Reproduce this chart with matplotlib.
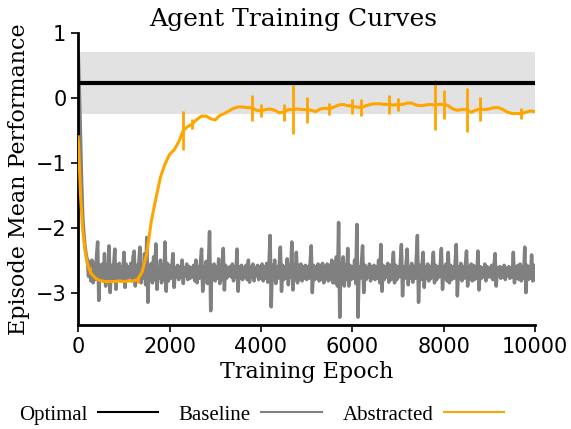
import numpy as np
import matplotlib
matplotlib.use('Agg')
import matplotlib.pyplot as plt
from matplotlib.lines import Line2D

# optimal policy: mean and spread (band)
optimal_mean = 0.23
optimal_std = 0.48

# baseline agent, one value every 25 epochs (0 .. 10000)
baseline_perf = [
    0.70, 0.10, -0.60, -1.30, -1.85, -2.10, -2.30, -2.42, -2.50, -2.75, -2.52, -2.82, -2.50, -2.85, -2.55, -2.80, -2.45, -2.22, -3.12, -2.58,
    -2.80, -2.56, -2.82, -2.40, -2.90, -2.58, -2.78, -2.28, -3.00, -2.58, -2.80, -2.60, -2.33, -2.95, -2.57, -2.80, -2.55, -2.82, -2.60, -2.78,
    -2.38, -2.92, -2.56, -2.80, -2.60, -2.76, -2.55, -2.82, -2.45, -2.36, -2.90, -2.58, -2.80, -2.57, -2.30, -2.85, -2.60, -2.78, -2.40, -2.88,
    -2.15, -3.15, -2.58, -2.80, -2.55, -2.85, -2.45, -2.80, -2.25, -2.95, -2.60, -2.78, -2.50, -2.85, -2.58, -2.80, -2.22, -2.98, -2.55, -2.82,
    -2.58, -2.78, -2.60, -2.40, -2.92, -2.62, -2.76, -2.58, -2.80, -2.60, -2.76, -2.50, -2.86, -2.62, -2.74, -2.56, -2.80, -2.60, -2.78, -2.62,
    -2.76, -2.58, -2.82, -2.50, -2.85, -2.60, -2.78, -2.56, -2.33, -2.98, -2.60, -2.78, -2.52, -2.86, -2.58, -2.06, -3.28, -2.58, -2.80, -2.56,
    -2.82, -2.60, -2.78, -2.48, -2.86, -2.58, -2.80, -2.32, -2.96, -2.58, -2.78, -2.62, -2.74, -2.60, -2.76, -2.56, -2.82, -2.60, -2.76, -2.33,
    -2.98, -2.60, -2.78, -2.58, -2.80, -2.62, -2.75, -2.58, -2.80, -2.50, -2.84, -2.60, -2.76, -2.56, -2.82, -2.62, -2.74, -2.58, -2.80, -2.60,
    -2.78, -2.56, -2.82, -2.60, -2.78, -2.55, -2.84, -2.60, -2.12, -3.22, -2.58, -2.80, -2.50, -2.86, -2.60, -2.78, -2.58, -2.30, -2.98, -2.58,
    -2.80, -2.60, -2.78, -2.48, -2.88, -2.60, -2.76, -2.22, -2.96, -2.58, -2.80, -2.38, -2.85, -2.58, -2.80, -2.56, -2.82, -2.60, -2.78, -2.58,
    -2.80, -2.60, -2.78, -2.56, -2.28, -3.00, -2.58, -2.80, -2.60, -2.78, -2.56, -2.82, -2.58, -2.80, -2.55, -2.85, -2.60, -2.78, -2.56, -2.82,
    -2.58, -2.80, -2.50, -2.85, -2.55, -2.85, -2.45, -2.90, -1.92, -3.38, -2.55, -2.82, -2.45, -2.90, -2.58, -2.80, -2.32, -2.90, -2.58, -2.80,
    -2.60, -2.78, -2.50, -2.86, -1.95, -3.38, -2.60, -2.78, -2.55, -2.28, -3.00, -2.58, -2.80, -2.62, -2.76, -2.56, -2.82, -2.60, -2.78, -2.58,
    -2.80, -2.60, -2.78, -2.50, -2.85, -2.26, -2.98, -2.58, -2.80, -2.60, -2.76, -2.55, -2.84, -2.58, -2.80, -2.60, -2.38, -2.85, -2.58, -2.80,
    -2.60, -2.76, -2.56, -2.26, -3.05, -2.60, -2.78, -2.58, -2.33, -2.88, -2.60, -2.78, -2.55, -2.84, -2.60, -2.78, -2.50, -2.12, -3.15, -2.58,
    -2.80, -2.58, -2.38, -2.92, -2.60, -2.78, -2.56, -2.82, -2.60, -2.78, -2.58, -2.38, -2.85, -2.58, -2.80, -2.60, -2.76, -2.58, -2.32, -2.95,
    -2.60, -2.78, -2.56, -2.82, -2.38, -2.85, -2.58, -2.80, -2.60, -2.78, -2.56, -2.26, -3.05, -2.60, -2.78, -2.55, -2.82, -2.60, -2.78, -2.58,
    -2.36, -2.90, -2.60, -2.78, -2.56, -2.82, -2.58, -2.80, -2.60, -2.78, -2.36, -2.96, -2.60, -2.78, -2.62, -2.76, -2.56, -2.82, -2.60, -2.76,
    -2.62, -2.76, -2.58, -2.80, -2.60, -2.40, -2.90, -2.62, -2.74, -2.60, -2.78, -2.62, -2.76, -2.58, -2.80, -2.62, -2.74, -2.60, -2.78, -2.62,
    -2.76, -2.38, -2.85, -2.60, -2.78, -2.58, -2.80, -2.56, -2.82, -2.60, -2.78, -2.30, -3.00, -2.58, -2.80, -2.60, -2.78, -2.42, -2.82, -2.58,
    -2.80,
]
baseline_epochs = np.arange(len(baseline_perf)) * 25

# abstracted agent
abstracted_epochs = [0, 50, 100, 150, 200, 250, 300, 400] + list(range(500, 10001, 100))
abstracted_perf = [
    -0.60, -1.50, -2.05, -2.35, -2.55, -2.66, -2.72, -2.79,
    -2.82, -2.83, -2.83, -2.83, -2.82, -2.83, -2.82, -2.82, -2.80, -2.68,
    -2.40, -1.90, -1.55, -1.22, -1.02, -0.87, -0.80, -0.68, -0.50, -0.44,
    -0.40, -0.33, -0.28, -0.28, -0.32, -0.34, -0.27, -0.24, -0.20, -0.16,
    -0.14, -0.14, -0.15, -0.15, -0.19, -0.20, -0.18, -0.17, -0.19, -0.23,
    -0.22, -0.18, -0.18, -0.17, -0.18, -0.18, -0.19, -0.21, -0.17, -0.16,
    -0.17, -0.14, -0.11, -0.10, -0.12, -0.13, -0.14, -0.15, -0.12, -0.10,
    -0.09, -0.09, -0.10, -0.10, -0.11, -0.10, -0.10, -0.08, -0.08, -0.11,
    -0.12, -0.11, -0.10, -0.11, -0.10, -0.10, -0.12, -0.17, -0.19, -0.18,
    -0.18, -0.22, -0.19, -0.17, -0.18, -0.17, -0.15, -0.15, -0.18, -0.22,
    -0.24, -0.24, -0.24, -0.22, -0.20, -0.21,
]

# error bars on the abstracted curve
err_epochs = [250, 1300, 2300, 2500, 3800, 4000, 4500, 4700, 5000, 5500,
              6000, 6200, 6800, 7000, 7800, 8000, 8500, 8800, 9700]
err_sizes = [0.05, 0.05, 0.30, 0.08, 0.20, 0.10, 0.13, 0.38, 0.20, 0.09,
             0.12, 0.13, 0.15, 0.10, 0.38, 0.22, 0.34, 0.18, 0.08]

fig = plt.figure(figsize=(5.71, 4.29), dpi=100)
ax = fig.add_axes([0.137, 0.2424, 0.8, 0.6806])

ax.axhspan(optimal_mean - optimal_std, optimal_mean + optimal_std, color='#e2e2e2', lw=0, zorder=1)
ax.plot(baseline_epochs, baseline_perf, color='gray', lw=2.5, zorder=2)
ax.plot(abstracted_epochs, abstracted_perf, color='orange', lw=2.2, zorder=3)
err_y = np.interp(err_epochs, abstracted_epochs, abstracted_perf)
ax.errorbar(err_epochs, err_y, yerr=err_sizes, fmt='none', ecolor='orange', elinewidth=2.0, zorder=3)
ax.axhline(optimal_mean, color='black', lw=3, zorder=4)

ax.set_xlim(0, 10000)
ax.set_ylim(-3.5, 1)
ax.set_xticks([0, 2000, 4000, 6000, 8000, 10000])
ax.set_yticks([-3, -2, -1, 0, 1])
ax.tick_params(labelsize=15, width=1.2, length=5)

ax.spines['top'].set_visible(False)
ax.spines['right'].set_visible(False)
ax.spines['left'].set_linewidth(2)
ax.spines['bottom'].set_linewidth(2)

ax.set_title('Agent Training Curves', family='DejaVu Serif', fontsize=18, pad=5, x=0.47)
ax.set_xlabel('Training Epoch', family='DejaVu Serif', fontsize=16, labelpad=3)
ax.set_ylabel('Episode Mean Performance', family='DejaVu Serif', fontsize=16, labelpad=4)

handles = [Line2D([], [], color='black', lw=1.5),
           Line2D([], [], color='gray', lw=1.5),
           Line2D([], [], color='orange', lw=1.5)]
fig.legend(handles, ['Optimal', 'Baseline', 'Abstracted'], loc='center', bbox_to_anchor=(0.458, 0.033),
           ncol=3, frameon=False, markerfirst=False, handlelength=2.9, handletextpad=0.5,
           columnspacing=1.0, prop={'family': 'Liberation Serif', 'size': 15})

fig.savefig('out.png', dpi=100)
